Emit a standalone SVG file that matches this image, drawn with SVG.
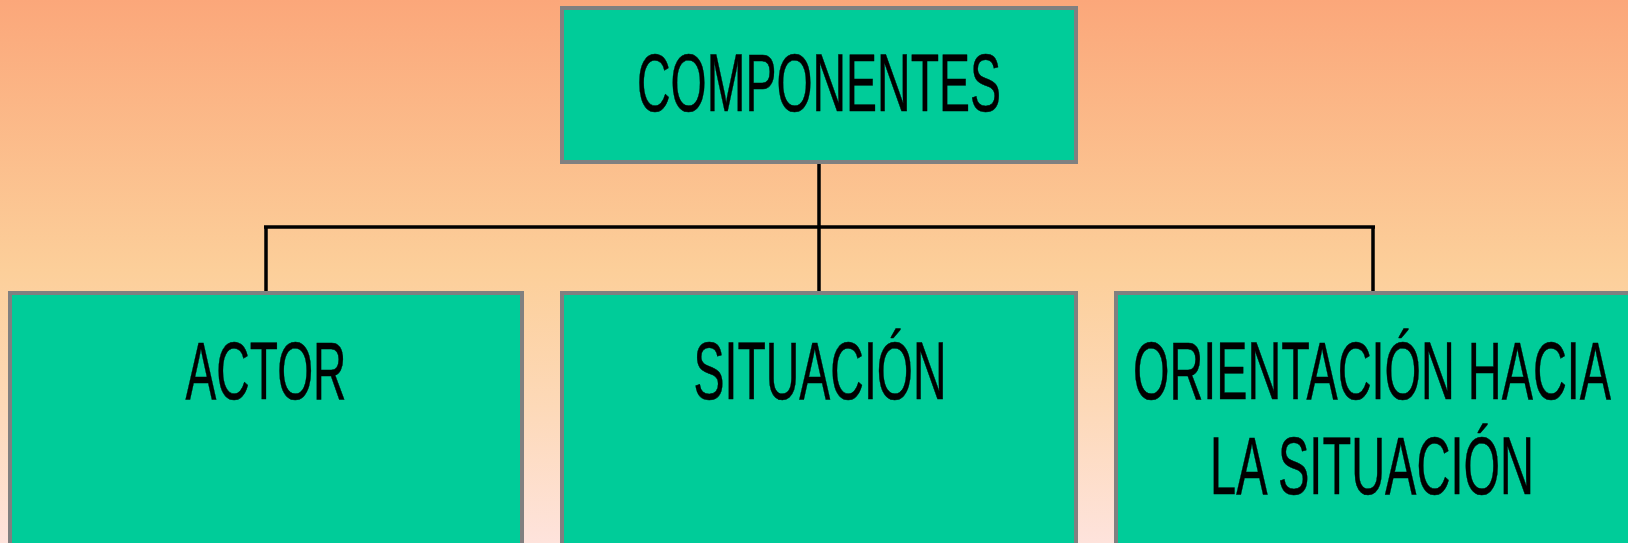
<svg xmlns="http://www.w3.org/2000/svg" width="1628" height="543" viewBox="0 0 1628 543">
  <defs>
    <linearGradient id="bg" x1="0" y1="0" x2="0" y2="1">
      <stop offset="0" stop-color="#FBA77A"/>
      <stop offset="0.5" stop-color="#FCCF9A"/>
      <stop offset="0.75" stop-color="#FDD9B8"/>
      <stop offset="1" stop-color="#FEE3DC"/>
    </linearGradient>
  </defs>
  <style>
    .box { fill: #00CC99; stroke: #808080; stroke-width: 4; }
    .lbl { font-family: "Liberation Sans", Arial, sans-serif; font-size: 82px; fill: #000; stroke: #000; stroke-width: 0.5; text-anchor: middle; }
    .conn { fill: none; stroke: #000; stroke-width: 3.5; }
  </style>
  <rect x="0" y="0" width="1628" height="543" fill="url(#bg)"/>
  <g id="connectors">
    <path class="conn" d="M819,162 V293"/>
    <path class="conn" d="M266,293 V227"/>
    <path class="conn" d="M1373,293 V227"/>
    <path class="conn" d="M264,227 H1375" stroke-width="5"/>
  </g>
  <g id="node-componentes">
    <rect class="box" x="562" y="8" width="514" height="154"/>
    <text class="lbl" x="819" y="111" textLength="364" lengthAdjust="spacingAndGlyphs">COMPONENTES</text>
  </g>
  <g id="node-actor">
    <rect class="box" x="10" y="293" width="512" height="270"/>
    <text class="lbl" x="266" y="399" textLength="161" lengthAdjust="spacingAndGlyphs">ACTOR</text>
  </g>
  <g id="node-situacion">
    <rect class="box" x="562" y="293" width="514" height="270"/>
    <text class="lbl" x="820" y="399" textLength="253" lengthAdjust="spacingAndGlyphs">SITUACIÓN</text>
  </g>
  <g id="node-orientacion">
    <rect class="box" x="1116" y="293" width="530" height="270"/>
    <text class="lbl" x="1372" y="399" textLength="478" lengthAdjust="spacingAndGlyphs">ORIENTACIÓN HACIA</text>
    <text class="lbl" x="1372" y="494" textLength="324" lengthAdjust="spacingAndGlyphs">LA SITUACIÓN</text>
  </g>
</svg>
